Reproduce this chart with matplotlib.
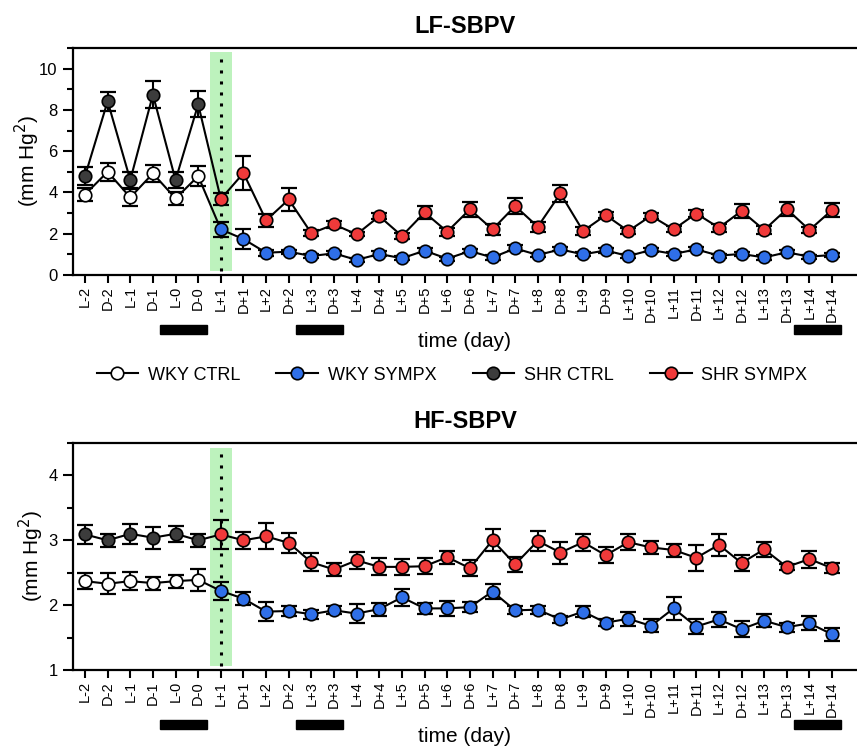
import numpy as np
import matplotlib
matplotlib.use('Agg')
import matplotlib.pyplot as plt
from matplotlib.lines import Line2D
from matplotlib.patches import Rectangle
from matplotlib.ticker import MultipleLocator
import matplotlib.transforms as mtransforms

plt.rcParams['font.family'] = ['Liberation Sans', 'DejaVu Sans']

# x categories (baseline + 14 days after sympathectomy)
days = ['L-2', 'D-2', 'L-1', 'D-1', 'L-0', 'D-0',
        'L+1', 'D+1', 'L+2', 'D+2', 'L+3', 'D+3', 'L+4', 'D+4', 'L+5', 'D+5',
        'L+6', 'D+6', 'L+7', 'D+7', 'L+8', 'D+8', 'L+9', 'D+9', 'L+10', 'D+10',
        'L+11', 'D+11', 'L+12', 'D+12', 'L+13', 'D+13', 'L+14', 'D+14']
n_ctrl = 6            # first 6 points are controls
surgery_day = 'L+1'
dark_bars = ['L-0', 'L+3', 'L+14']

# LF-SBPV
lf_wky_ctrl = [3.90, 5.00, 3.76, 4.92, 3.71, 4.79]
lf_wky_ctrl_err = [0.33, 0.43, 0.40, 0.43, 0.33, 0.48]
lf_shr_ctrl = [4.79, 8.42, 4.60, 8.74, 4.60, 8.27]
lf_shr_ctrl_err = [0.45, 0.45, 0.40, 0.65, 0.40, 0.63]
lf_wky_sympx = [2.21, 1.74, 1.08, 1.13, 0.92, 1.05, 0.73, 1.02, 0.81, 1.18,
                0.79, 1.16, 0.85, 1.29, 0.97, 1.24, 1.00, 1.19, 0.92, 1.21,
                1.02, 1.24, 0.94, 1.02, 0.85, 1.10, 0.89, 0.97]
lf_wky_sympx_err = [0.37, 0.47, 0.15, 0.10, 0.10, 0.10, 0.10, 0.12, 0.10, 0.12,
                    0.10, 0.10, 0.10, 0.15, 0.10, 0.10, 0.10, 0.10, 0.10, 0.10,
                    0.10, 0.10, 0.10, 0.10, 0.10, 0.10, 0.10, 0.10]
lf_shr_sympx = [3.68, 4.94, 2.65, 3.66, 2.02, 2.45, 1.97, 2.85, 1.89, 3.03,
                2.10, 3.18, 2.21, 3.34, 2.34, 3.95, 2.13, 2.90, 2.13, 2.87,
                2.21, 2.98, 2.29, 3.10, 2.18, 3.19, 2.18, 3.15]
lf_shr_sympx_err = [0.30, 0.82, 0.30, 0.58, 0.15, 0.15, 0.10, 0.15, 0.15, 0.30,
                    0.20, 0.35, 0.25, 0.40, 0.25, 0.43, 0.20, 0.15, 0.15, 0.15,
                    0.15, 0.15, 0.20, 0.35, 0.20, 0.35, 0.15, 0.33]

# HF-SBPV
hf_wky_ctrl = [2.37, 2.33, 2.37, 2.34, 2.37, 2.39]
hf_wky_ctrl_err = [0.12, 0.16, 0.14, 0.10, 0.10, 0.17]
hf_shr_ctrl = [3.09, 3.00, 3.10, 3.04, 3.10, 3.00]
hf_shr_ctrl_err = [0.15, 0.10, 0.15, 0.17, 0.12, 0.10]
hf_wky_sympx = [2.22, 2.10, 1.90, 1.91, 1.86, 1.92, 1.87, 1.94, 2.12, 1.95,
                1.95, 1.97, 2.21, 1.92, 1.93, 1.78, 1.90, 1.73, 1.79, 1.68,
                1.95, 1.67, 1.78, 1.63, 1.76, 1.66, 1.72, 1.55]
hf_wky_sympx_err = [0.14, 0.10, 0.15, 0.08, 0.07, 0.06, 0.14, 0.10, 0.13, 0.08,
                    0.12, 0.08, 0.11, 0.06, 0.06, 0.05, 0.09, 0.05, 0.11, 0.10,
                    0.18, 0.12, 0.12, 0.12, 0.10, 0.07, 0.11, 0.10]
hf_shr_sympx = [3.09, 3.00, 3.06, 2.96, 2.66, 2.55, 2.69, 2.59, 2.59, 2.60,
                2.74, 2.57, 3.00, 2.63, 2.99, 2.81, 2.97, 2.77, 2.97, 2.89,
                2.85, 2.73, 2.93, 2.65, 2.86, 2.59, 2.71, 2.57]
hf_shr_sympx_err = [0.22, 0.13, 0.20, 0.15, 0.14, 0.10, 0.13, 0.13, 0.12, 0.12,
                    0.10, 0.12, 0.17, 0.12, 0.15, 0.17, 0.13, 0.12, 0.12, 0.10,
                    0.10, 0.20, 0.17, 0.13, 0.12, 0.05, 0.13, 0.08]

names = ['WKY CTRL', 'WKY SYMPX', 'SHR CTRL', 'SHR SYMPX']
face = {'WKY CTRL': 'white', 'WKY SYMPX': '#2f6fe8',
        'SHR CTRL': '#3c3c3c', 'SHR SYMPX': '#f03a3a'}
band_color = '#bdf2bd'

x = np.arange(len(days))
x_ctrl = x[:n_ctrl]
x_symp = x[n_ctrl:]
x_surg = days.index(surgery_day)

fig = plt.figure(figsize=(8.57, 7.47), dpi=100)
W, H = 857, 747


def px_axes(left, top, right, bottom):
    return fig.add_axes([left / W, 1 - bottom / H, (right - left) / W, (bottom - top) / H])


def draw_series(ax, xs, ys, errs, color):
    ax.errorbar(xs, ys, yerr=errs, fmt='none', ecolor='black', elinewidth=1.5,
                capsize=6, capthick=1.6, zorder=3)
    ax.plot(xs, ys, 'o', ms=9, mfc=color, mec='black', mew=1.2, zorder=4)


def panel(ax, title, wky_c, wky_ce, shr_c, shr_ce, wky_s, wky_se, shr_s, shr_se,
          ylim, band, major, minor, label_x):
    ax.axvspan(x_surg - 0.5, x_surg + 0.5, ymin=band[0], ymax=band[1],
               color=band_color, lw=0, zorder=0)
    ylo, yhi = ylim
    ax.plot([x_surg, x_surg], [ylo + band[0] * (yhi - ylo), ylo + band[1] * (yhi - ylo)],
            color='black', ls=(0, (1, 2.6)), lw=2.2, zorder=1)
    # connecting lines (control -> sympx continuous)
    ax.plot(x, list(wky_c) + list(wky_s), color='black', lw=1.5, zorder=2)
    ax.plot(x, list(shr_c) + list(shr_s), color='black', lw=1.5, zorder=2)
    draw_series(ax, x_ctrl, wky_c, wky_ce, face['WKY CTRL'])
    draw_series(ax, x_ctrl, shr_c, shr_ce, face['SHR CTRL'])
    draw_series(ax, x_symp, wky_s, wky_se, face['WKY SYMPX'])
    draw_series(ax, x_symp, shr_s, shr_se, face['SHR SYMPX'])

    ax.set_xlim(-0.53, 34.1)
    ax.set_ylim(*ylim)
    ax.set_xticks(x)
    ax.set_xticklabels(days, rotation=90, fontsize=10.5)
    ax.yaxis.set_major_locator(MultipleLocator(major))
    ax.yaxis.set_minor_locator(MultipleLocator(minor))
    ax.tick_params(axis='y', which='major', direction='out', length=7, width=1.5,
                   labelsize=12, pad=4)
    ax.tick_params(axis='y', which='minor', direction='out', length=4, width=1.5)
    ax.tick_params(axis='x', which='major', direction='out', length=6, width=1.5, pad=2)
    ax.spines['right'].set_visible(False)
    for s in ['left', 'top', 'bottom']:
        ax.spines[s].set_linewidth(1.6)
    ax.set_title(title, fontsize=17, fontweight='bold', pad=11)
    ax.set_ylabel('(mm Hg$^2$)', fontsize=15)
    ax.yaxis.set_label_coords(label_x, 0.5)
    ax.set_xlabel('time (day)', fontsize=15)
    ax.xaxis.label.set_va('center')
    ax.xaxis.set_label_coords(0.5, -0.291)

    trans = mtransforms.blended_transform_factory(ax.transData, ax.transAxes)
    for d in dark_bars:
        i = days.index(d)
        ax.add_patch(Rectangle((i - 0.68, -0.262), 2.08, 0.04, transform=trans,
                               color='black', clip_on=False))


ax1 = px_axes(73, 48, 857, 275)
panel(ax1, 'LF-SBPV', lf_wky_ctrl, lf_wky_ctrl_err, lf_shr_ctrl, lf_shr_ctrl_err,
      lf_wky_sympx, lf_wky_sympx_err, lf_shr_sympx, lf_shr_sympx_err,
      (0, 11), (0.017, 0.982), 2, 1, -0.040)

ax2 = px_axes(73, 443, 857, 670)
panel(ax2, 'HF-SBPV', hf_wky_ctrl, hf_wky_ctrl_err, hf_shr_ctrl, hf_shr_ctrl_err,
      hf_wky_sympx, hf_wky_sympx_err, hf_shr_sympx, hf_shr_sympx_err,
      (1, 4.5), (0.017, 0.98), 1, 0.5, -0.035)

handles = [Line2D([], [], color='black', lw=1.5, marker='o', ms=9, mfc=face[n],
                  mec='black', mew=1.2) for n in names]
fig.legend(handles, names, loc='center', bbox_to_anchor=(452 / W, 1 - 375 / H),
           ncol=4, frameon=False, fontsize=13, handlelength=2.3, handletextpad=0.55,
           columnspacing=2.0)

fig.savefig('out.png', dpi=100)
